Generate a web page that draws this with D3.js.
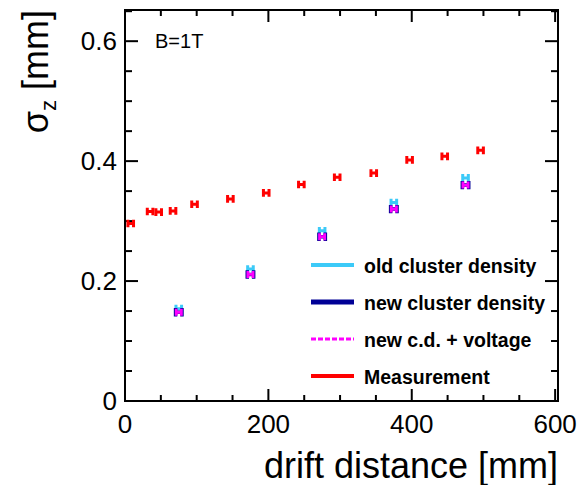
<!DOCTYPE html>
<html>
<head>
<meta charset="utf-8">
<script src="https://cdn.jsdelivr.net/npm/d3@7"></script>
<style>
  html, body { margin: 0; padding: 0; background: #fff; }
  svg { display: block; font-family: "Liberation Sans", Arial, sans-serif; }
</style>
</head>
<body>
<div id="chart"></div>
<script>
// Measured data (B=1T)
const measDist = [8, 35, 47, 67, 97, 147, 197, 246, 296, 347, 397, 446, 496];
const measSigma = [0.296, 0.316, 0.315, 0.317, 0.328, 0.337, 0.347, 0.361, 0.373, 0.380, 0.402, 0.408, 0.418];

// Simulation points
const simDist = [75, 175, 275, 375, 475];
const oldSigma = [0.154, 0.220, 0.284, 0.331, 0.372];
const newSigma = [0.148, 0.211, 0.274, 0.320, 0.360];
const voltSigma = [0.148, 0.211, 0.274, 0.320, 0.360];

const legendLabels = ["old cluster density", "new cluster density", "new c.d. + voltage", "Measurement"];

const COLORS = {
  old: "#3ccaf8",
  neu: "#000096",
  volt: "#ff00ff",
  meas: "#ff0000",
};

const W = 579, H = 485;
const margin = { top: 10, right: 21, bottom: 84, left: 125 };

const svg = d3.select("#chart").append("svg")
  .attr("width", W)
  .attr("height", H);

const x = d3.scaleLinear().domain([0, 604]).range([margin.left, W - margin.right]);
const y = d3.scaleLinear().domain([0, 0.652]).range([H - margin.bottom, margin.top]);

const x0 = x.range()[0], x1 = x.range()[1];
const y0 = y.range()[0], y1 = y.range()[1];

// frame
svg.append("rect")
  .attr("x", x0).attr("y", y1)
  .attr("width", x1 - x0).attr("height", y0 - y1)
  .attr("fill", "none").attr("stroke", "#000").attr("stroke-width", 2);

// ticks (ROOT style: inward, on all four sides)
const ticks = svg.append("g").attr("stroke", "#000").attr("stroke-width", 2);
d3.range(0, 601, 50).forEach(v => {
  const len = v % 200 === 0 ? 12 : 6;
  ticks.append("line").attr("x1", x(v)).attr("x2", x(v)).attr("y1", y0).attr("y2", y0 - len);
  ticks.append("line").attr("x1", x(v)).attr("x2", x(v)).attr("y1", y1).attr("y2", y1 + len);
});
d3.range(0, 0.651, 0.05).forEach(v => {
  const major = Math.abs(v * 10 - Math.round(v * 10)) < 1e-6 && Math.round(v * 10) % 2 === 0;
  const len = major ? 13 : 7;
  ticks.append("line").attr("y1", y(v)).attr("y2", y(v)).attr("x1", x0).attr("x2", x0 + len);
  ticks.append("line").attr("y1", y(v)).attr("y2", y(v)).attr("x1", x1).attr("x2", x1 - len);
});

// tick labels
svg.append("g").selectAll("text")
  .data([0, 200, 400, 600])
  .join("text")
  .attr("x", d => x(d))
  .attr("y", 433)
  .attr("text-anchor", "middle")
  .attr("font-size", 26)
  .text(d => d);

svg.append("g").selectAll("text")
  .data([0, 0.2, 0.4, 0.6])
  .join("text")
  .attr("x", 117)
  .attr("y", d => y(d) + 9)
  .attr("text-anchor", "end")
  .attr("font-size", 26)
  .text(d => d === 0 ? "0" : d.toFixed(1));

// axis titles
svg.append("text")
  .attr("x", x1)
  .attr("y", 478)
  .attr("text-anchor", "end")
  .attr("font-size", 36)
  .text("drift distance [mm]");

const yt = svg.append("text")
  .attr("transform", `translate(48,${y1}) rotate(-90)`)
  .attr("text-anchor", "end")
  .attr("font-size", 36);
yt.append("tspan").text("σ");
yt.append("tspan").attr("font-size", 22).attr("dy", 8).text("z");
yt.append("tspan").attr("dy", -8).text(" [mm]");

svg.append("text")
  .attr("x", 155).attr("y", 48)
  .attr("font-size", 20)
  .text("B=1T");

// H-shaped error markers
function drawMarks(xs, ys, color, hw, hh, sw) {
  const g = svg.append("g").attr("stroke", color).attr("stroke-width", sw).attr("fill", "none");
  xs.forEach((d, i) => {
    const cx = x(d), cy = y(ys[i]);
    g.append("path")
      .attr("d", `M${cx - hw},${cy}H${cx + hw}M${cx - hw},${cy - hh}V${cy + hh}M${cx + hw},${cy - hh}V${cy + hh}`);
  });
}

drawMarks(measDist, measSigma, COLORS.meas, 2.8, 3.8, 3);
drawMarks(simDist, oldSigma, COLORS.old, 2.8, 3.8, 3);
drawMarks(simDist, newSigma, COLORS.neu, 3.2, 4.2, 3.5);
drawMarks(simDist, voltSigma, COLORS.volt, 2.6, 3.5, 2.8);

// legend
const legStyles = [
  { color: COLORS.old, width: 4, dash: null },
  { color: COLORS.neu, width: 5, dash: null },
  { color: COLORS.volt, width: 3, dash: "5,2" },
  { color: COLORS.meas, width: 4, dash: null },
];
const legY = [267, 304, 341, 378];
const leg = svg.append("g");
legendLabels.forEach((lab, i) => {
  leg.append("line")
    .attr("x1", 311).attr("x2", 354)
    .attr("y1", legY[i] - 2).attr("y2", legY[i] - 2)
    .attr("stroke", legStyles[i].color)
    .attr("stroke-width", legStyles[i].width)
    .attr("stroke-dasharray", legStyles[i].dash);
  leg.append("text")
    .attr("x", 364).attr("y", legY[i] + 6)
    .attr("font-size", 19.5)
    .attr("font-weight", "bold")
    .text(lab);
});
</script>
</body>
</html>
